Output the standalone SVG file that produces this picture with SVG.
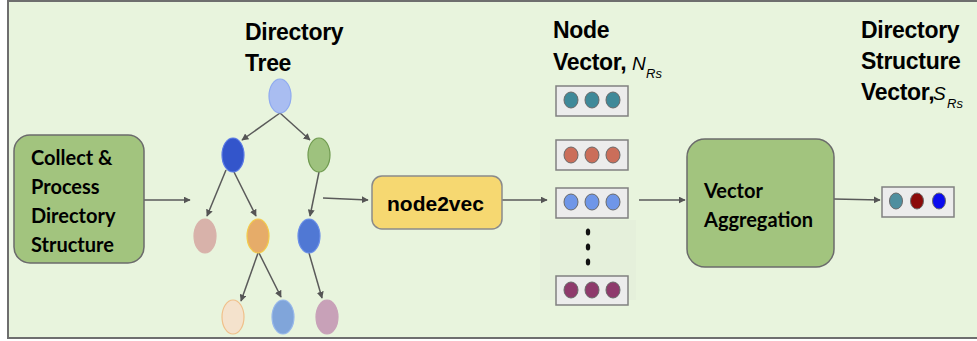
<svg xmlns="http://www.w3.org/2000/svg" width="977" height="341" viewBox="0 0 977 341">
  <defs>
    <marker id="arrow" viewBox="0 0 10 10" refX="9" refY="5" markerWidth="7" markerHeight="7" markerUnits="userSpaceOnUse" orient="auto">
      <path d="M0,0 L10,5 L0,10 z" fill="#555"/>
    </marker>
    <style>
      .edge { stroke: #5a5a5a; stroke-width: 1.5; fill: none; marker-end: url(#arrow); }
      .title { font-family: "Liberation Sans", Arial, sans-serif; font-weight: bold; font-size: 23px; letter-spacing: -0.3px; fill: #000; }
      .sym { font-family: "Liberation Sans", Arial, sans-serif; font-style: italic; font-size: 19px; fill: #000; }
      .sub { font-family: "Liberation Sans", Arial, sans-serif; font-style: italic; font-size: 13px; fill: #000; }
      .label { font-family: Lato, "Liberation Sans", sans-serif; font-weight: bold; font-size: 20px; fill: #000; }
      .green { fill: #a2c47e; stroke: #6b6b6b; stroke-width: 1.5; }
      .vecbox { fill: #ececec; stroke: #808080; stroke-width: 1.5; }
      .tn { stroke-width: 1.2; }
      .vc { stroke: #6a6a6a; stroke-width: 1; }
    </style>
  </defs>

  <!-- canvas -->
  <rect x="0" y="0" width="977" height="341" fill="#ffffff"/>
  <rect x="8" y="1" width="975" height="337" fill="#e8f4dd" stroke="#6e6e6e" stroke-width="2"/>
  <!-- faint panel behind the ellipsis -->
  <rect x="540" y="220" width="96" height="80" fill="#e5f0db"/>

  <!-- connectors -->
  <g id="connectors">
    <line class="edge" x1="144" y1="200" x2="190" y2="200"/>
    <line class="edge" x1="323" y1="198" x2="368" y2="200"/>
    <line class="edge" x1="502" y1="200" x2="547" y2="200"/>
    <line class="edge" x1="639" y1="200" x2="685" y2="200"/>
    <line class="edge" x1="834" y1="199" x2="880" y2="200"/>
    <!-- tree edges -->
    <line class="edge" x1="280" y1="113" x2="242" y2="140"/>
    <line class="edge" x1="280" y1="113" x2="310" y2="140"/>
    <line class="edge" x1="226" y1="170" x2="207" y2="216"/>
    <line class="edge" x1="234" y1="172" x2="256" y2="216"/>
    <line class="edge" x1="319" y1="172" x2="310" y2="216"/>
    <line class="edge" x1="258" y1="253" x2="241" y2="301"/>
    <line class="edge" x1="259" y1="253" x2="281" y2="297"/>
    <line class="edge" x1="309" y1="253" x2="322" y2="298"/>
  </g>

  <!-- Collect & Process Directory Structure -->
  <g id="collect">
    <rect class="green" x="14" y="135" width="130" height="128" rx="16"/>
    <text class="label" x="31" y="165">Collect &amp;</text>
    <text class="label" x="31" y="194">Process</text>
    <text class="label" x="31" y="223">Directory</text>
    <text class="label" x="31" y="252">Structure</text>
  </g>

  <!-- Directory Tree -->
  <g id="tree-title">
    <text class="title" x="245" y="40">Directory</text>
    <text class="title" x="245" y="71">Tree</text>
  </g>
  <g id="tree">
    <ellipse class="tn" cx="280" cy="96" rx="11" ry="17" fill="#a9bdf1" stroke="#8faaf0"/>
    <ellipse class="tn" cx="233" cy="155" rx="11" ry="17" fill="#3355cb" stroke="#5a7ae6"/>
    <ellipse class="tn" cx="319" cy="155" rx="11" ry="17" fill="#9ec27e" stroke="#6f9a4f"/>
    <ellipse class="tn" cx="205" cy="236" rx="11" ry="17" fill="#d8b2aa" stroke="#d8b2aa"/>
    <ellipse class="tn" cx="258" cy="236" rx="11" ry="17" fill="#e6ac69" stroke="#f3cb4a"/>
    <ellipse class="tn" cx="309" cy="236" rx="11" ry="17" fill="#5078d4" stroke="#6a8ee8"/>
    <ellipse class="tn" cx="233" cy="317" rx="11" ry="17" fill="#f4e2cc" stroke="#f0c08a"/>
    <ellipse class="tn" cx="283" cy="317" rx="11" ry="17" fill="#80a5da" stroke="#97b8ea"/>
    <ellipse class="tn" cx="327" cy="317" rx="11" ry="17" fill="#c8a1b8" stroke="#c8a1b8"/>
  </g>

  <!-- node2vec -->
  <g id="node2vec">
    <rect x="372" y="176" width="130" height="53" rx="10" fill="#f6d871" stroke="#8a8a8a" stroke-width="1.5"/>
    <text x="387" y="211" font-family="'Liberation Sans', Arial, sans-serif" font-weight="bold" font-size="21" fill="#000">node2vec</text>
  </g>

  <!-- Node Vector, N_Rs -->
  <g id="node-vector-title">
    <text class="title" x="553" y="38">Node</text>
    <text class="title" x="553" y="70">Vector,</text>
    <text class="sym" x="632" y="70">N</text>
    <text class="sub" x="646" y="78">Rs</text>
  </g>
  <g id="node-vectors">
    <rect class="vecbox" x="556" y="86" width="72" height="30"/>
    <ellipse class="vc" cx="571" cy="100" rx="7" ry="8" fill="#3f8999"/>
    <ellipse class="vc" cx="592" cy="100" rx="7" ry="8" fill="#3f8999"/>
    <ellipse class="vc" cx="613" cy="100" rx="7" ry="8" fill="#3f8999"/>

    <rect class="vecbox" x="556" y="140" width="72" height="30"/>
    <ellipse class="vc" cx="571" cy="155" rx="7" ry="8" fill="#cb6e5a"/>
    <ellipse class="vc" cx="592" cy="155" rx="7" ry="8" fill="#cb6e5a"/>
    <ellipse class="vc" cx="613" cy="155" rx="7" ry="8" fill="#cb6e5a"/>

    <rect class="vecbox" x="556" y="188" width="72" height="30"/>
    <ellipse class="vc" cx="571" cy="202" rx="7" ry="8" fill="#6f96e8"/>
    <ellipse class="vc" cx="592" cy="202" rx="7" ry="8" fill="#6f96e8"/>
    <ellipse class="vc" cx="613" cy="202" rx="7" ry="8" fill="#6f96e8"/>

    <ellipse cx="588" cy="232" rx="2.2" ry="3.5" fill="#111"/>
    <ellipse cx="588" cy="247" rx="2.2" ry="3.5" fill="#111"/>
    <ellipse cx="588" cy="262" rx="2.2" ry="3.5" fill="#111"/>

    <rect class="vecbox" x="556" y="276" width="72" height="29"/>
    <ellipse class="vc" cx="571" cy="290" rx="7" ry="8" fill="#8e3a6c"/>
    <ellipse class="vc" cx="592" cy="290" rx="7" ry="8" fill="#8e3a6c"/>
    <ellipse class="vc" cx="613" cy="290" rx="7" ry="8" fill="#8e3a6c"/>
  </g>

  <!-- Vector Aggregation -->
  <g id="aggregation">
    <rect class="green" x="687" y="139" width="147" height="128" rx="18"/>
    <text class="label" x="704" y="198">Vector</text>
    <text class="label" x="704" y="227">Aggregation</text>
  </g>

  <!-- Directory Structure Vector, S_Rs -->
  <g id="structure-vector-title">
    <text class="title" x="861" y="38">Directory</text>
    <text class="title" x="861" y="69">Structure</text>
    <text class="title" x="861" y="100">Vector,</text>
    <text class="sym" x="933" y="100">S</text>
    <text class="sub" x="947" y="108">Rs</text>
  </g>
  <g id="structure-vector">
    <rect class="vecbox" x="882" y="187" width="72" height="30"/>
    <ellipse class="vc" cx="896" cy="201" rx="6.5" ry="8" fill="#4f8f9f"/>
    <ellipse class="vc" cx="917" cy="201" rx="6.5" ry="8" fill="#8b0a0a"/>
    <ellipse class="vc" cx="939" cy="201" rx="6.5" ry="8" fill="#0a0aee"/>
  </g>
</svg>
